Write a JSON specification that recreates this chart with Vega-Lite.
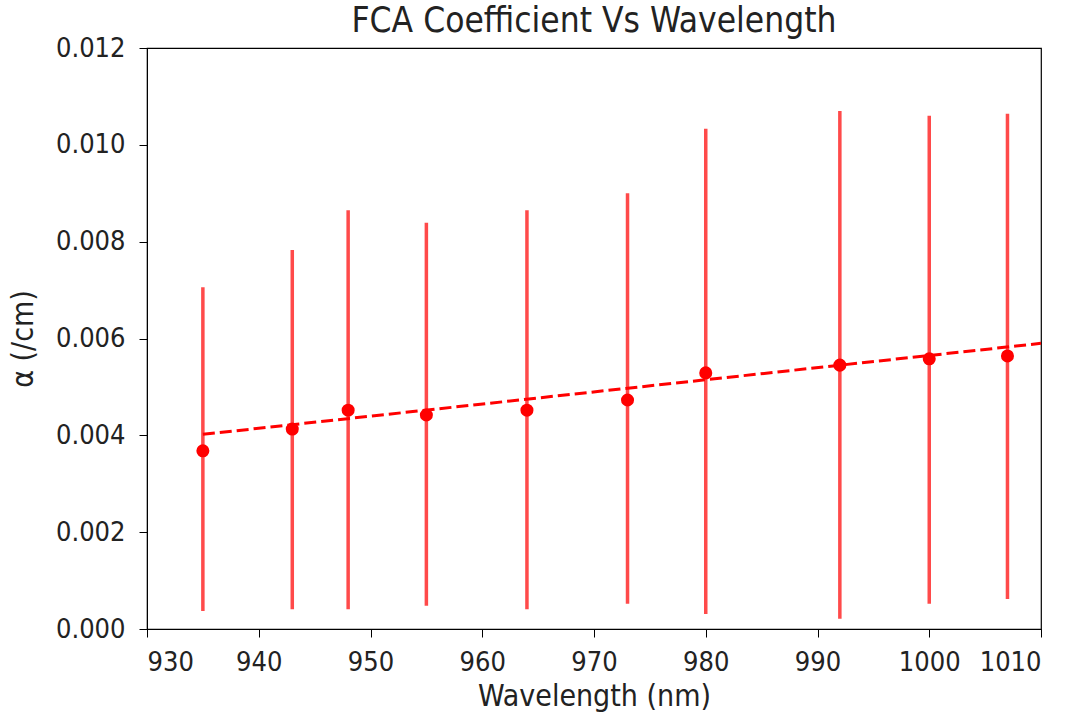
{
  "$schema": "https://vega.github.io/schema/vega-lite/v6.json",
  "width": 894,
  "height": 581,
  "autosize": {"type": "none"},
  "padding": {"left": 147, "top": 48, "right": 40, "bottom": 88},
  "background": "white",
  "title": {"text": "FCA Coefficient Vs Wavelength", "font": "DejaVu Sans Condensed", "fontSize": 35, "fontWeight": "normal", "color": "#222", "offset": -5},
  "config": {
    "view": {"stroke": "black", "strokeWidth": 1.2},
    "axis": {"labelFont": "DejaVu Sans Condensed", "titleFont": "DejaVu Sans Condensed", "labelFontSize": 27, "titleFontSize": 30, "titleFontWeight": "normal", "labelColor": "#222", "titleColor": "#222", "domainColor": "black", "tickColor": "black", "tickSize": 8, "grid": false}
  },
  "datasets": {
    "pts": [
      {"wl": 935, "a": 0.00368, "lo": 0.00037, "hi": 0.00706},
      {"wl": 943, "a": 0.00413, "lo": 0.00041, "hi": 0.00783},
      {"wl": 948, "a": 0.00452, "lo": 0.00041, "hi": 0.00865},
      {"wl": 955, "a": 0.00442, "lo": 0.00048, "hi": 0.00839},
      {"wl": 964, "a": 0.00452, "lo": 0.00041, "hi": 0.00865},
      {"wl": 973, "a": 0.00473, "lo": 0.00052, "hi": 0.00900},
      {"wl": 980, "a": 0.00529, "lo": 0.00031, "hi": 0.01033},
      {"wl": 992, "a": 0.00545, "lo": 0.00021, "hi": 0.01070},
      {"wl": 1000, "a": 0.00558, "lo": 0.00052, "hi": 0.01060},
      {"wl": 1007, "a": 0.00564, "lo": 0.00062, "hi": 0.01064}
    ],
    "fit": [
      {"wl": 935, "a": 0.00402},
      {"wl": 1010, "a": 0.00590}
    ]
  },
  "layer": [
    {
      "data": {"name": "pts"},
      "mark": {"type": "rule", "color": "#ff2a2a", "opacity": 0.85, "strokeWidth": 3.5},
      "encoding": {
        "x": {"field": "wl", "type": "quantitative", "scale": {"domain": [930, 1010], "nice": false, "zero": false}, "axis": {"values": [930,940,950,960,970,980,990,1000,1010], "format": "d", "title": "Wavelength (nm)", "titlePadding": 6, "labelPadding": 12}},
        "y": {"field": "lo", "type": "quantitative", "scale": {"domain": [0, 0.012], "nice": false}, "axis": {"values": [0,0.002,0.004,0.006,0.008,0.010,0.012], "format": ".3f", "title": "α (/cm)", "titlePadding": 17, "labelPadding": 14}},
        "y2": {"field": "hi"}
      }
    },
    {
      "data": {"name": "fit"},
      "mark": {"type": "line", "color": "#ff0000", "strokeWidth": 3, "strokeDash": [12, 5]},
      "encoding": {
        "x": {"field": "wl", "type": "quantitative"},
        "y": {"field": "a", "type": "quantitative"}
      }
    },
    {
      "data": {"name": "pts"},
      "mark": {"type": "point", "filled": true, "color": "#ff0000", "opacity": 1, "size": 170},
      "encoding": {
        "x": {"field": "wl", "type": "quantitative"},
        "y": {"field": "a", "type": "quantitative"}
      }
    }
  ]
}
